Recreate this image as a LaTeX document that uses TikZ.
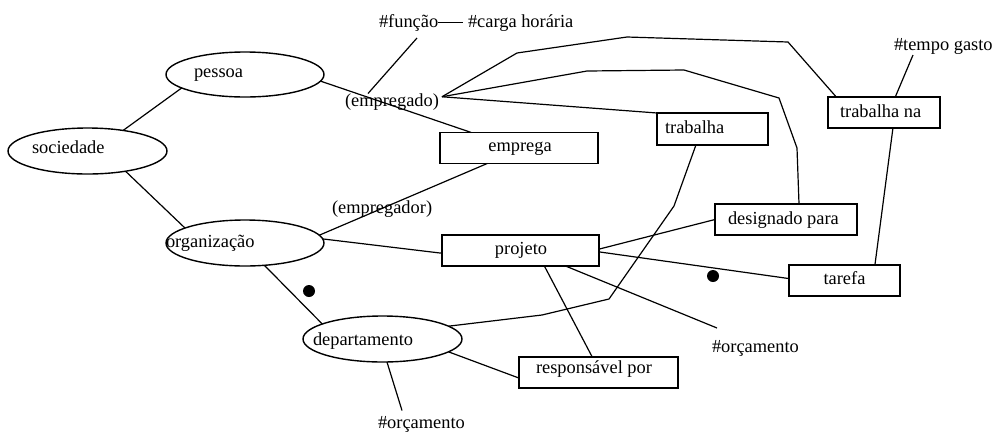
\documentclass[tikz,border=0pt]{standalone}
\usepackage{fontspec}
\setmainfont{Liberation Serif}
\usetikzlibrary{shapes.geometric}
\begin{document}
\begin{tikzpicture}[x=1pt,y=-1pt,
  every node/.style={font=\fontsize{18.4}{22}\selectfont},
  ent/.style={draw, ellipse, line width=1.4pt, inner sep=0pt, outer sep=0pt},
  relbox/.style={draw, rectangle, line width=1.4pt, inner sep=0pt, outer sep=0pt},
  lbl/.style={inner sep=0pt, outer sep=0pt, anchor=base west, text height=12.5pt, text depth=4pt},
  clbl/.style={inner sep=0pt, outer sep=0pt, anchor=base},
  link/.style={line width=1.2pt, line join=miter},
  blob/.style={circle, fill, inner sep=0pt, minimum size=12pt}]
\useasboundingbox (0,0) rectangle (996,432);

% entities
\node[ent, minimum width=159pt, minimum height=46pt] (sociedade) at (87.5,151) {};
\node[ent, minimum width=158pt, minimum height=45pt] (pessoa) at (245,74.5) {};
\node[ent, minimum width=158pt, minimum height=46pt] (organizacao) at (245,243) {};
\node[ent, minimum width=159pt, minimum height=46pt] (departamento) at (382.5,339) {};
\node[lbl] (sociedade-t) at (32,153) {sociedade};
\node[lbl] (pessoa-t) at (194,77) {pessoa};
\node[lbl] (organizacao-t) at (166,247) {organização};
\node[lbl] (departamento-t) at (313,345) {departamento};

% relationships
\node[relbox, minimum width=158pt, minimum height=31pt] (emprega) at (519,148) {};
\node[relbox, minimum width=157pt, minimum height=31pt] (projeto) at (520.5,250.5) {};
\node[relbox, minimum width=111pt, minimum height=32pt] (trabalha) at (712.5,129) {};
\node[relbox, minimum width=112pt, minimum height=31pt] (trabalhana) at (884,112.5) {};
\node[relbox, minimum width=142pt, minimum height=31pt] (designado) at (786,219.5) {};
\node[relbox, minimum width=111pt, minimum height=31pt] (tarefa) at (844.5,280.5) {};
\node[relbox, minimum width=159pt, minimum height=31pt] (responsavel) at (598.5,372.5) {};
\node[clbl] (emprega-t) at (520,151) {emprega};
\node[clbl] (projeto-t) at (521,254) {projeto};
\node[lbl] (trabalha-t) at (665,133) {trabalha};
\node[lbl] (trabalhana-t) at (840,117) {trabalha na};
\node[lbl] (designado-t) at (728,224) {designado para};
\node[clbl] (tarefa-t) at (844.5,284) {tarefa};
\node[lbl] (responsavel-t) at (536,373) {responsável por};

% roles and attributes
\node[lbl] (empregado) at (345,106) {(empregado)};
\node[lbl] (empregador) at (332,213) {(empregador)};
\node[lbl] (funcao) at (379,27) {\#função};
\node[lbl] (carga) at (468,27) {\#carga horária};
\node[lbl] (tempo) at (894,50) {\#tempo gasto};
\node[lbl] (orcproj) at (712,352) {\#orçamento};
\node[lbl] (orcdep) at (378,428) {\#orçamento};

% cardinality marks
\node[blob] (dot1) at (309,291) {};
\node[blob] (dot2) at (713,276) {};

% connectors
\coordinate (hub) at ([xshift=3pt,yshift=5pt]empregado.east);
\draw[link] (sociedade.30) -- (pessoa.192);
\draw[link] (sociedade.332.6) -- (organizacao.166.4);
\draw[link] (pessoa.355) -- (emprega.162.4);
\draw[link] (organizacao.6.6) -- (emprega.206.6);
\draw[link] (organizacao.3.6) -- (projeto.182.55);
\draw[link] (organizacao.311) -- (departamento.166.3);
\draw[link] (departamento.349.9) -- (responsavel.184);
\draw[link] (departamento.281) -- ([xshift=24pt,yshift=5pt]orcdep.north west);
\draw[link] (departamento.11.9) -- (542,315) -- (609,299) -- (674,206) -- (trabalha.224);
\draw[link] (projeto.327.7) -- (responsavel.112.8);
\draw[link] (projeto.341.6) -- ([xshift=5pt,yshift=11.5pt]orcproj.north west);
\draw[link] (projeto.1.1) -- (designado.west);
\draw[link] (projeto.359.6) -- (tarefa.178.5);
\draw[link] (trabalhana.300.1) -- (tarefa.27.7);
\draw[link] (trabalhana.54.6) -- ([xshift=19pt,yshift=-1pt]tempo.south west);
\draw[link] ([xshift=23pt]empregado.north west) -- ([xshift=38pt,yshift=-7pt]funcao.south west);
\draw[link] (funcao.east) -- ([xshift=-5pt]carga.west);
\draw[link] (hub) -- (trabalha.north west);
\draw[link] (hub) -- (517,53) -- (627,37) -- (788,42) -- (trabalhana.162.8);
\draw[link] (hub) -- (587,71) -- (684,70) -- (779,98) -- (797,148) -- (designado.50);
\end{tikzpicture}
\end{document}
